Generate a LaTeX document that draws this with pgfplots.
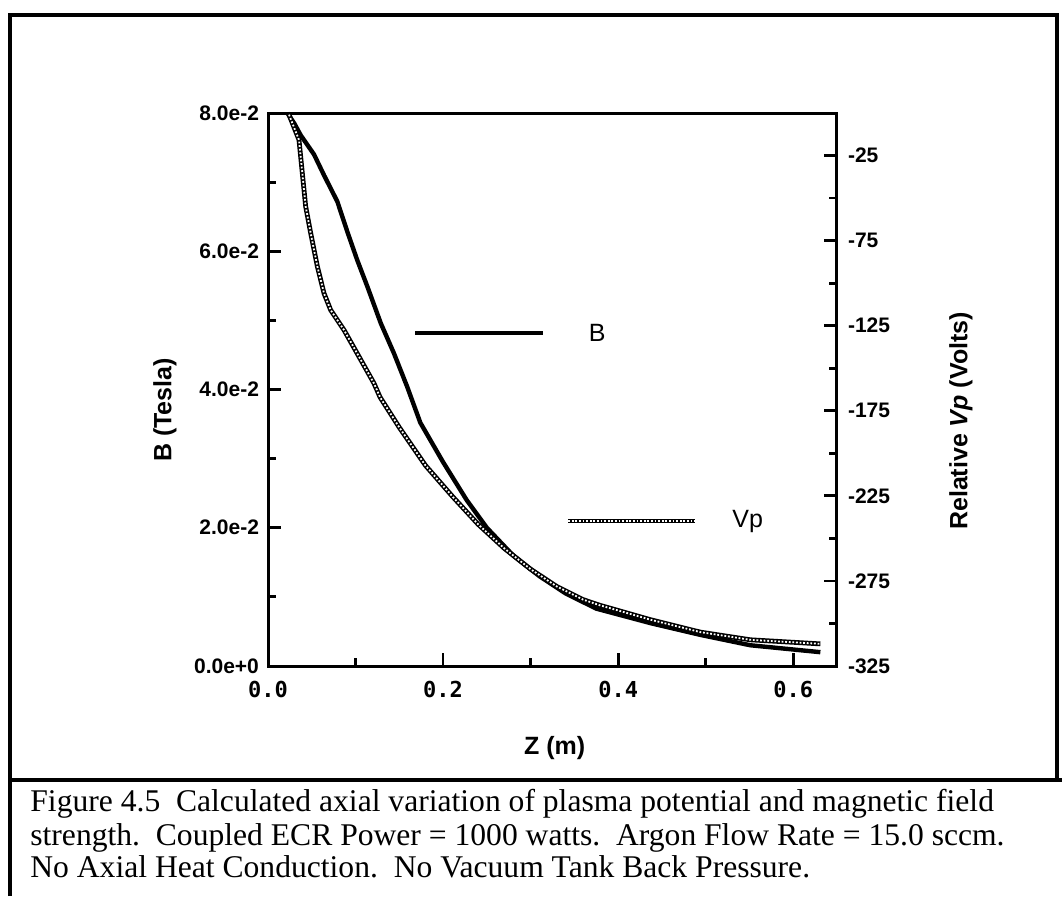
\documentclass[border=0pt]{standalone}
\usepackage{fontspec}
\setmainfont{Liberation Serif}
\setsansfont{Liberation Sans}
\newfontfamily\monob{DejaVu Sans Mono}
\usepackage{pgfplots}
\pgfplotsset{compat=1.18}
\usepackage{pgfplotstable}

\pgfplotstableread{
z B
0.0221 0.0800
0.0300 0.0785
0.0373 0.0768
0.0526 0.0740
0.064 0.0710
0.0792 0.0672
0.0907 0.0628
0.102 0.0587
0.1135 0.0549
0.1288 0.0496
0.144 0.0452
0.159 0.0404
0.174 0.0352
0.200 0.0295
0.227 0.0240
0.250 0.0200
0.280 0.0160
0.310 0.0130
0.340 0.0105
0.375 0.0083
0.437 0.0062
0.494 0.0045
0.551 0.0030
0.631 0.0020
}\Bdata

\pgfplotstableread{
z V
0.024 -1.0
0.0354 -15.8
0.0392 -35.3
0.043 -54.8
0.0488 -70.7
0.0564 -90.2
0.064 -106.0
0.0716 -115.8
0.0869 -127.6
0.102 -141.4
0.121 -158.8
0.128 -167.0
0.150 -184.8
0.180 -207.2
0.211 -225.5
0.240 -241.7
0.270 -255.9
0.300 -268.1
0.330 -278.3
0.360 -286.0
0.379 -289.3
0.437 -297.8
0.494 -305.1
0.551 -309.6
0.631 -312.0
}\Vdata

\pgfplotsset{
  common/.style={
    at={(134pt,115pt)}, anchor=south west,
    scale only axis, width=284.5pt, height=276.5pt,
    xmin=0, xmax=0.65,
    scaled x ticks=false, scaled y ticks=false,
    axis line style={line width=1.5pt},
    tick align=inside,
    major tick length=6.5pt, minor tick length=4pt,
    major tick style={line width=1.4pt, black},
    minor tick style={line width=1.4pt, black},
    clip=false,
  }
}

\begin{document}
\begin{tikzpicture}
\path[use as bounding box] (0,0) rectangle (531pt,448pt);

\begin{axis}[
  common,
  ymin=0, ymax=0.08,
  xtick pos=left, ytick pos=left,
  xtick={0,0.2,0.4,0.6}, xticklabels={0.0,0.2,0.4,0.6},
  minor xtick={0.1,0.3,0.5},
  ytick={0,0.02,0.04,0.06,0.08},
  yticklabels={0.0e+0,2.0e-2,4.0e-2,6.0e-2,8.0e-2},
  minor ytick={0.01,0.03,0.05,0.07},
  xticklabel style={font=\monob\bfseries\fontsize{11}{13}\selectfont, yshift=-4pt},
  yticklabel style={font=\sffamily\bfseries\fontsize{10.5}{13}\selectfont, xshift=-1pt},
]
\addplot[black, line width=2.2pt, line join=round] table[x=z, y=B] {\Bdata};
\addplot[black, line width=1.8pt] coordinates {(0.168,0.0482) (0.314,0.0482)};
\node[anchor=west, inner sep=0pt, font=\sffamily\fontsize{12.5}{14}\selectfont] at (axis cs:0.366,0.0482) {B};
\node[rotate=90, font=\sffamily\bfseries\fontsize{12.5}{14}\selectfont] at (axis description cs:-0.181,0.463) {B (Tesla)};
\node[font=\sffamily\bfseries\fontsize{12.5}{14}\selectfont] at (axis description cs:0.504,-0.148) {Z (m)};
\end{axis}

\begin{axis}[
  common,
  ymin=-325, ymax=0,
  axis x line=none, axis y line*=right,
  ytick={-325,-275,-225,-175,-125,-75,-25},
  yticklabels={-325,-275,-225,-175,-125,-75,-25},
  minor ytick={-300,-250,-200,-150,-100,-50},
  yticklabel style={font=\sffamily\bfseries\fontsize{10.5}{13}\selectfont, xshift=2pt},
]
\addplot[black, line width=2.4pt, line join=round] table[x=z, y=V] {\Vdata};
\addplot[white, line width=0.9pt, dash pattern=on 0.9pt off 0.9pt] table[x=z, y=V] {\Vdata};
\addplot[black, line width=2.4pt] coordinates {(0.343,-239.8) (0.488,-239.8)};
\addplot[white, line width=0.9pt, dash pattern=on 0.9pt off 0.9pt] coordinates {(0.343,-239.8) (0.488,-239.8)};
\node[anchor=west, inner sep=0pt, font=\sffamily\fontsize{12.5}{14}\selectfont] at (axis cs:0.530,-239.8) {Vp};
\node[rotate=90, font=\sffamily\bfseries\fontsize{12.5}{14}\selectfont] at (axis description cs:1.218,0.443) {Relative \textit{Vp} (Volts)};
\end{axis}

% frame
\draw[line width=1.6pt] (5pt,0) -- (5pt,440.5pt) -- (528.5pt,440.5pt) -- (528.5pt,58pt);
\draw[line width=1.6pt] (5pt,58pt) -- (531pt,58pt);

% caption
\begin{scope}[every node/.style={anchor=base west, inner sep=0pt, font=\fontsize{15.8}{17}\selectfont}]
\node at (15pt,42pt) {Figure 4.5\ \ Calculated axial variation of plasma potential and magnetic field};
\node at (15pt,25.5pt) {strength.\ \ Coupled ECR Power = 1000 watts.\ \ Argon Flow Rate = 15.0 sccm.};
\node at (15pt,9.5pt) {No Axial Heat Conduction.\ \ No Vacuum Tank Back Pressure.};
\end{scope}
\end{tikzpicture}
\end{document}
